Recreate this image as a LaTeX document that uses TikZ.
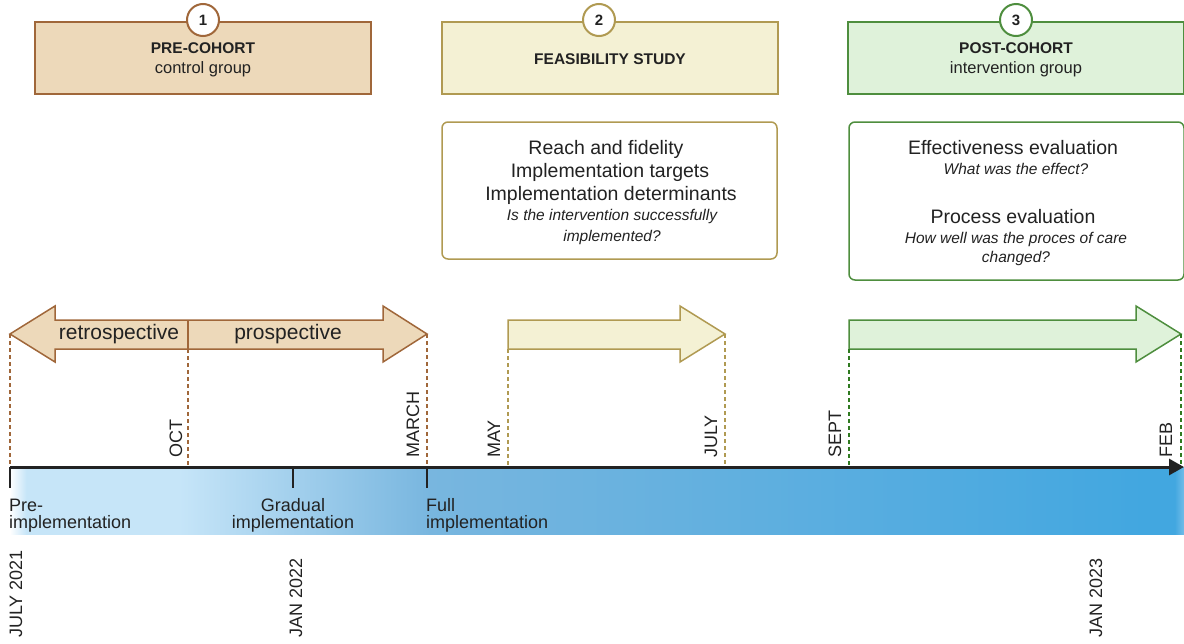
\documentclass[tikz,border=0pt]{standalone}
\usepackage{fontspec}
\setmainfont{Liberation Sans}
\usetikzlibrary{arrows.meta}
\definecolor{tanF}{HTML}{EDD9BA}
\definecolor{tanD}{HTML}{A0673A}
\definecolor{yelF}{HTML}{F4F1D4}
\definecolor{yelD}{HTML}{B09A52}
\definecolor{grnF}{HTML}{DFF2DA}
\definecolor{grnD}{HTML}{4E8E3E}
\definecolor{dashG}{HTML}{2F7A20}
\definecolor{blA}{HTML}{C6E5F8}
\definecolor{blB}{HTML}{78B6DF}
\definecolor{blC}{HTML}{42A7E0}
\definecolor{blD}{HTML}{72BDE8}
\definecolor{txt}{HTML}{222222}
\pgfdeclarehorizontalshading{bandshade}{100bp}{color(0bp)=(white); color(25bp)=(white); color(25.7bp)=(blA); color(32.2bp)=(blA); color(42.9bp)=(blB); color(73.3bp)=(blC); color(74.6bp)=(blC); color(75bp)=(blD); color(100bp)=(blD)}
\newcommand{\fs}[1]{\fontsize{#1}{#1}\selectfont}
\begin{document}
\begin{tikzpicture}[x=1pt,y=-1pt,
  phasebox/.style={draw=#1, line width=1.5pt, minimum width=336pt, minimum height=72pt, inner sep=0pt},
  badge/.style={circle, draw=#1, fill=white, line width=2pt, minimum size=32pt, inner sep=0pt, font=\fs{15}\bfseries},
  infobox/.style={draw=#1, rounded corners=6pt, line width=1.5pt, fill=white, inner sep=0pt},
  vdash/.style={draw=#1, line width=2pt, dash pattern=on 4pt off 3pt},
  month/.style={rotate=90, anchor=west, inner sep=0pt, font=\fs{18}, text=txt},
  lbl/.style={inner sep=0pt, font=\fs{18}, text=txt},
  tick/.style={draw=txt, line width=1.5pt},
  every node/.style={text=txt}]
\useasboundingbox (0,0) rectangle (1184,643);

% timeline band
\path[shading=bandshade] (10,467) rectangle (1184,534);

% phase boxes
\node[phasebox=tanD, fill=tanF] (b1) at (203,58) {};
\node[phasebox=yelD, fill=yelF] (b2) at (610,58) {};
\node[phasebox=grnD, fill=grnF] (b3) at (1016,58) {};
\node[badge=tanD] (c1) at (203,20) {1};
\node[badge=yelD] (c2) at (599,20) {2};
\node[badge=grnD] (c3) at (1016,20) {3};
\node[lbl, font=\fs{15.5}\bfseries] (t1a) at (203,48) {PRE-COHORT};
\node[lbl, font=\fs{16.5}] (t1b) at (203,69) {control group};
\node[lbl, font=\fs{15.5}\bfseries] (t2a) at (610,59) {FEASIBILITY STUDY};
\node[lbl, font=\fs{15.5}\bfseries] (t3a) at (1016,48) {POST-COHORT};
\node[lbl, font=\fs{16.5}] (t3b) at (1016,69) {intervention group};

% info boxes
\node[infobox=yelD, minimum width=335pt, minimum height=137pt] (i2) at (609.5,190.5) {};
\node[lbl, font=\fs{19.5}] at (606,149) {Reach and fidelity};
\node[lbl, font=\fs{19.5}] at (610,172) {Implementation targets};
\node[lbl, font=\fs{19.5}] at (611,195) {Implementation determinants};
\node[lbl, font=\fs{15.5}\itshape] at (612,216) {Is the intervention successfully};
\node[lbl, font=\fs{15.5}\itshape] at (612,237) {implemented?};

\node[infobox=grnD, minimum width=335pt, minimum height=158pt] (i3) at (1016.5,201) {};
\node[lbl, font=\fs{19.5}] at (1013,148) {Effectiveness evaluation};
\node[lbl, font=\fs{15.5}\itshape] at (1016,169) {What was the effect?};
\node[lbl, font=\fs{19.5}] at (1013,217) {Process evaluation};
\node[lbl, font=\fs{15.5}\itshape] at (1016,239) {How well was the proces of care};
\node[lbl, font=\fs{15.5}\itshape] at (1016,258) {changed?};

% arrows
\draw[tanD, fill=tanF, line width=1.5pt, line join=miter]
  (10,334) -- (55,306) -- (55,320) -- (383,320) -- (383,306) -- (427,334)
  -- (383,362) -- (383,349) -- (55,349) -- (55,362) -- cycle;
\coordinate (d0) at (188,320);
\coordinate (d1) at (188,349);
\draw[tanD, line width=1.5pt] (d0) -- (d1);
\node[lbl, font=\fs{21}] (retro) at (119,334) {retrospective};
\node[lbl, font=\fs{21}] (pros) at (288,334) {prospective};

\draw[yelD, fill=yelF, line width=1.5pt, line join=miter]
  (508,320) -- (680,320) -- (680,306) -- (725,334) -- (680,362) -- (680,349) -- (508,349) -- cycle;
\draw[grnD, fill=grnF, line width=1.5pt, line join=miter]
  (849,320) -- (1136,320) -- (1136,306) -- (1181,334) -- (1136,362) -- (1136,349) -- (849,349) -- cycle;

% axis
\coordinate (ax0) at (10,467);
\coordinate (ax1) at (1184,467);
% dashed drop lines
\foreach \x/\y/\c/\n in {10/334/tanD/a,188/349/tanD/b,427/334/tanD/c,508/349/yelD/d,725/334/yelD/e,849/349/dashG/f,1181/334/dashG/g}{
  \coordinate (top\n) at (\x,\y);
  \coordinate (bot\n) at (\x,466);
  \draw[vdash=\c] (top\n) -- (bot\n);
}
\draw[line width=3pt, draw=txt, -{Triangle[length=15pt,width=16pt]}] (ax0) -- (ax1);
\coordinate (k1) at (10,488);
\coordinate (k2) at (293,488);
\coordinate (k3) at (427,488);
\coordinate (k1t) at (10,467);
\coordinate (k2t) at (293,467);
\coordinate (k3t) at (427,467);
\draw[tick] (k1t) -- (k1);
\draw[tick] (k2t) -- (k2);
\draw[tick] (k3t) -- (k3);

% month labels
\node[month] (oct) at (176,458) {OCT};
\node[month] (mar) at (413,458) {MARCH};
\node[month] (may) at (494,458) {MAY};
\node[month] (jul) at (711,458) {JULY};
\node[month] (sep) at (835,458) {SEPT};
\node[month] (feb) at (1166,458) {FEB};
\node[month] (j21) at (16,638) {JULY 2021};
\node[month] (j22) at (296,638) {JAN 2022};
\node[month] (j23) at (1096,638) {JAN 2023};

% phase labels on the band
\node[lbl, anchor=west] (pre1) at (9,505) {Pre-};
\node[lbl, anchor=west] (pre2) at (9,524) {implementation};
\node[lbl] (gr1) at (293,505) {Gradual};
\node[lbl] (gr2) at (293,524) {implementation};
\node[lbl, anchor=west] (fu1) at (426,505) {Full};
\node[lbl, anchor=west] (fu2) at (426,524) {implementation};
\end{tikzpicture}
\end{document}
